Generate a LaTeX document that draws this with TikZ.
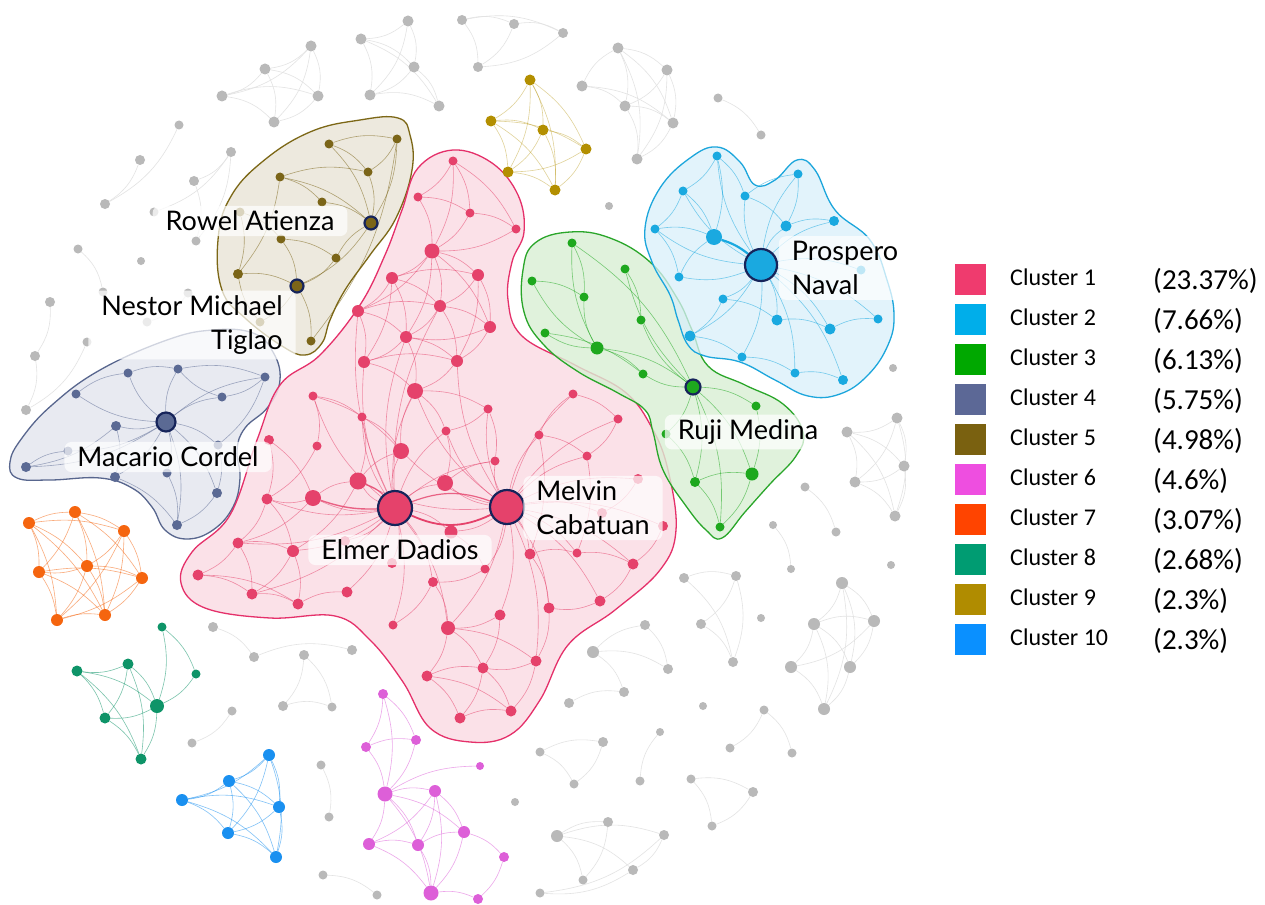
\documentclass[tikz,border=0pt]{standalone}
\usepackage{fontspec}
\setmainfont{Lato}
\newfontfamily\legfont{Carlito}
\pgfdeclarelayer{bgl}\pgfdeclarelayer{hulls}\pgfdeclarelayer{edges}\pgfdeclarelayer{labels}
\pgfsetlayers{bgl,hulls,edges,main,labels}
\definecolor{navy}{HTML}{16245A}
\definecolor{n1}{HTML}{E5426B}\definecolor{h1}{HTML}{FBDCE4}\definecolor{b1}{HTML}{E5306A}
\definecolor{n2}{HTML}{1AA9E0}\definecolor{h2}{HTML}{D9EFFA}\definecolor{b2}{HTML}{1CA6DC}
\definecolor{n3}{HTML}{1EA81E}\definecolor{h3}{HTML}{D9EFD4}\definecolor{b3}{HTML}{2AA62A}
\definecolor{n4}{HTML}{5B6A94}\definecolor{h4}{HTML}{E4E7EF}\definecolor{b4}{HTML}{58668E}
\definecolor{n5}{HTML}{7B6518}\definecolor{h5}{HTML}{EAE6D9}\definecolor{b5}{HTML}{7C6716}
\definecolor{n6}{HTML}{DD5FD8}\definecolor{n7}{HTML}{F5650F}\definecolor{n8}{HTML}{0E9468}
\definecolor{n9}{HTML}{B38F00}\definecolor{n10}{HTML}{1A90F0}\definecolor{ng}{HTML}{B9B9B9}
\definecolor{l1}{HTML}{EF3B6E}\definecolor{l2}{HTML}{00AEEA}\definecolor{l3}{HTML}{00A800}
\definecolor{l4}{HTML}{5C6896}\definecolor{l5}{HTML}{7A6110}\definecolor{l6}{HTML}{EE4EE0}
\definecolor{l7}{HTML}{FF4400}\definecolor{l8}{HTML}{009C72}\definecolor{l9}{HTML}{B08C00}
\definecolor{l10}{HTML}{0A90FF}
\tikzset{
  nd/.style={circle,inner sep=0pt,minimum size=#1},
  hubnode/.style={circle,inner sep=0pt,draw=navy,line width=2.2pt,minimum size=#1},
  lbl/.style={fill=white,fill opacity=0.72,text opacity=1,rounded corners=7pt,inner xsep=13pt,inner ysep=5pt,font=\fontsize{27}{34}\selectfont},
  hullshape/.style={line width=1.3pt,fill opacity=0.85},
  edg/.style={line width=0.6pt,draw opacity=0.55},
  gedg/.style={line width=0.6pt,draw=black!11},
  legbox/.style={minimum size=31pt,inner sep=0pt},
  legtxt/.style={anchor=west,inner sep=0pt,font=\legfont\fontsize{24}{26}\selectfont},
  legpct/.style={anchor=west,inner sep=0pt,font=\legfont\fontsize{29}{30}\selectfont}
}
\begin{document}
\begin{tikzpicture}[x=1pt,y=-1pt]
\begin{pgfonlayer}{bgl}
\fill[white] (0,0) rectangle (1265,904);
\end{pgfonlayer}
\useasboundingbox (0,0) rectangle (1265,904);
% ---------------- hulls
\begin{pgfonlayer}{hulls}
\draw[hullshape,draw=b5,fill=h5] plot[smooth cycle,tension=0.7] coordinates {(398,118) (410,135) (412,170) (396,218) (370,255) (345,290) (330,320) (322,343) (305,355) (282,346) (245,318) (222,290) (218,240) (230,198) (262,162) (310,132) (360,120)};
\draw[hullshape,draw=b4,fill=h4] plot[smooth cycle,tension=0.7] coordinates {(10,462) (22,438) (52,405) (100,370) (167,340) (213,330) (253,333) (273,352) (280,380) (268,407) (245,428) (237,450) (240,478) (233,507) (213,530) (187,539) (165,530) (152,507) (132,488) (100,478) (50,480) (17,478)};
\draw[hullshape,draw=b1,fill=h1] plot[smooth cycle,tension=0.65] coordinates {(453,150) (492,163) (518,195) (524,232) (512,262) (508,300) (522,336) (575,365) (625,392) (652,428) (668,470) (676,530) (660,570) (615,610) (568,645) (540,700) (510,735) (470,742) (430,728) (403,682) (370,640) (335,616) (270,618) (205,608) (181,583) (192,552) (230,515) (257,440) (280,385) (320,355) (360,305) (385,255) (402,210) (418,168)};
\draw[hullshape,draw=b3,fill=h3,fill opacity=0.8] plot[smooth cycle,tension=0.7] coordinates {(523,270) (535,243) (570,232) (610,238) (650,262) (677,298) (692,330) (708,366) (745,385) (783,404) (803,432) (796,456) (770,484) (745,512) (722,538) (706,530) (686,506) (663,470) (653,432) (645,410) (618,393) (577,371) (543,344) (524,312)};
\draw[hullshape,draw=b2,fill=h2,fill opacity=0.75] plot[smooth cycle,tension=0.7] coordinates {(645,228) (660,188) (690,158) (717,147) (740,162) (755,185) (775,180) (797,160) (815,170) (835,210) (870,240) (887,280) (894,315) (888,345) (868,375) (840,394) (808,396) (775,380) (740,362) (705,356) (688,345) (678,320) (670,295) (652,262)};
\end{pgfonlayer}
% ---------------- gray nodes
\foreach \i/\x/\y/\s in {1/311/46/11, 2/265/69/11, 3/222/96/11, 4/318/96/11, 5/274/122/11,
 6/408/21/11, 7/361/39/11, 8/414/67/11, 9/370/95/11, 10/439/106/11,
 11/462/20/10, 12/514/24/10, 13/563/33/10, 14/478/67/10,
 15/618/48/11, 16/667/70/11, 17/625/106/11, 18/673/123/11, 19/637/159/11, 20/582/86/11,
 21/718/98/9, 22/761/135/9, 23/179/125/9, 24/140/160/10, 90/105/204/10,
 25/231/152/10, 26/194/181/10, 91/154/212/9, 27/196/241/9,
 92/78/249/9, 93/103/292/9, 94/141/261/8, 28/188/293/9, 95/147/322/9,
 32/50/302/10, 30/35/356/10, 31/26/410/10, 29/87/342/9,
 33/609/206/8, 35/893/368/8,
 36/897/418/11, 37/847/432/11, 38/904/466/11, 39/855/482/11, 40/895/516/11,
 41/805/487/9, 42/836/532/9, 43/773/525/8, 44/791/569/8, 45/891/565/8,
 46/842/583/12, 47/814/624/12, 48/874/621/12, 49/791/667/12, 50/850/667/12, 51/824/709/12,
 52/792/753/9, 53/764/710/9, 54/730/748/9,
 55/733/662/10, 96/736/576/10, 97/701/624/10, 62/684/578/10, 98/761/618/8, 56/703/706/8,
 57/593/652/12, 58/668/669/10, 59/624/692/10, 60/569/703/10, 61/645/625/10,
 63/540/752/9, 64/603/742/10, 65/574/784/9, 66/640/781/9, 67/660/732/8,
 68/691/779/9, 69/753/792/10, 70/712/826/9, 71/515/802/8,
 72/557/836/12, 73/608/822/10, 74/664/835/10, 75/633/870/10, 76/583/880/9, 77/540/893/9,
 78/213/627/10, 79/254/657/10, 80/304/655/10, 81/352/650/10, 82/283/706/10, 83/332/707/9, 84/232/711/9, 85/192/743/9,
 86/321/765/9, 87/329/817/9, 88/323/875/9, 89/377/895/9}
  \node[nd=\s pt,fill=ng] (g\i) at (\x,\y) {};
\begin{pgfonlayer}{edges}
\foreach \a/\b in {1/2,1/3,1/4,1/5,2/3,2/4,3/4,3/5,4/5,2/5, 6/7,6/8,6/9,7/8,7/10,8/9,8/10,9/10,7/9,
 11/12,11/13,12/13,12/14,13/14,11/14, 15/16,15/17,15/18,15/19,16/17,16/18,16/19,17/18,17/19,18/19,20/17,20/15,20/18,
 21/22, 23/90,24/90,25/26,25/91,26/27,25/27,92/93,28/95, 32/30,30/31,29/31,
 36/37,36/38,36/39,36/40,37/38,37/39,37/40,38/39,38/40,39/40, 41/42,43/44,
 46/47,46/48,46/50,46/51,47/48,47/49,47/50,48/49,48/50,49/51,50/51,47/51,
 53/52,53/54, 62/96,62/55,96/97,96/55,97/55, 57/61,57/58,61/58,60/59,57/59,
 63/64,63/65,64/65,66/67, 68/69,68/70,69/70,
 72/73,72/74,72/75,72/76,73/76,74/75,75/77,74/77,
 78/79,79/81,80/82,80/83,82/83,84/85,86/87,88/89}
  \draw[gedg] (g\a) to[bend left=18] (g\b);
\end{pgfonlayer}
% ---------------- cluster 1 (pink)
\foreach \i/\x/\y/\s in {1/453/161/9, 2/418/197/9, 3/470/213/9, 4/516/229/9, 5/432/251/15, 6/392/278/12, 7/478/275/12, 8/440/306/12, 9/490/327/12, 10/358/311/12, 11/406/337/12, 12/364/362/12, 13/457/361/12, 14/415/391/16, 15/313/396/9, 16/362/417/9, 17/488/409/9, 18/446/431/9, 19/539/435/9, 20/573/394/9, 21/618/419/9, 22/587/456/9, 23/495/461/9, 24/401/451/16, 25/317/446/9, 26/358/481/17, 27/445/483/16, 28/313/498/16, 29/267/499/11, 32/451/532/13, 33/238/543/11, 34/293/551/12, 35/530/554/11, 36/577/553/9, 37/633/564/11, 38/485/569/9, 39/433/582/10, 40/198/575/11, 41/252/594/11, 42/298/604/11, 43/347/592/11, 44/600/601/11, 45/549/608/11, 46/500/615/11, 47/393/625/9, 48/448/628/14, 49/427/676/11, 50/483/668/11, 51/536/661/11, 52/460/718/11, 53/511/711/11, 54/269/440/10, 55/638/479/10, 56/663/526/10, 57/602/513/10, 58/345/541/10, 59/392/563/10}
  \node[nd=\s pt,fill=n1] (p\i) at (\x,\y) {};
\node[hubnode=34pt,fill=n1] (p30) at (395,508) {};
\node[hubnode=34pt,fill=n1] (p31) at (507,507) {};
\begin{pgfonlayer}{edges}
\foreach \a/\b in {30/26,30/28,30/24,30/27,30/14,30/16,30/18,30/11,30/12,30/33,30/34,30/29,30/43,30/39,30/47,30/59,30/58,30/10,30/8,30/23,30/32,30/48,30/15,30/41,
 31/27,31/23,31/17,31/19,31/22,31/35,31/36,31/37,31/45,31/44,31/46,31/38,31/32,31/18,31/21,31/20,31/55,31/56,31/57,31/24,31/26,31/14,31/48,31/51,31/13,
 1/2,1/3,1/4,2/3,3/4,2/5,1/5,4/5,3/5,5/6,5/7,5/8,5/9,5/10,5/11,6/7,6/8,6/10,6/11,6/12,7/8,7/9,7/13,8/9,8/11,8/13,9/13,10/11,10/12,11/12,11/13,12/13,9/11,10/8,12/14,13/14,11/14,
 15/16,15/25,15/24,25/29,29/33,33/40,40/41,41/42,33/34,34/42,28/29,28/26,26/24,24/14,16/24,40/42,33/41,34/41,28/33,26/34,42/43,29/34,54/29,54/28,
 14/18,18/27,27/23,17/23,17/18,16/26,14/17,32/38,38/39,39/47,39/48,
 20/21,19/20,19/22,21/22,22/36,36/37,37/44,35/45,44/45,35/36,19/35,55/57,56/37,
 48/49,48/50,48/51,49/50,49/52,50/53,51/53,52/53,50/52,49/53,51/50,46/48,45/51,46/50}
  \draw[edg,draw=n1] (p\a) to[bend left=15] (p\b);
\draw[n1,line width=1.8pt] (p30) to[bend right=25] (p31);
\draw[n1,line width=1.2pt,draw opacity=0.8] (p30) to[bend left=20] (p31);
\draw[n1,line width=1.4pt,draw opacity=0.8] (p28) to[bend right=10] (p30);
\draw[n1,line width=1.2pt,draw opacity=0.8] (p26) to[bend left=12] (p30);
\end{pgfonlayer}
% ---------------- cluster 2 (cyan)
\foreach \i/\x/\y/\s in {1/717/156/9, 2/683/191/9, 3/745/196/9, 4/798/174/9, 5/655/229/9, 6/714/237/16, 7/786/226/11, 8/834/221/10, 10/861/270/9, 11/679/277/9, 12/723/299/9, 13/777/320/11, 14/830/329/11, 15/878/319/9, 16/690/336/11, 17/742/357/9, 18/795/373/9, 19/843/380/10}
  \node[nd=\s pt,fill=n2] (c\i) at (\x,\y) {};
\node[hubnode=32pt,fill=n2] (c9) at (761,265) {};
\begin{pgfonlayer}{edges}
\foreach \a/\b in {9/2,9/3,9/4,9/5,9/7,9/8,9/10,9/11,9/12,9/13,9/14,9/15,9/16,9/17,9/18,9/19,9/1,
 1/2,1/3,1/6,2/6,5/6,3/4,4/7,7/8,11/6,12/13,13/14,14/15,17/18,18/19,16/17,5/11,2/5,3/7,12/16}
  \draw[edg,draw=n2] (c\a) to[bend left=15] (c\b);
\draw[n2,line width=2.2pt] (c6) to[bend left=10] (c9);
\end{pgfonlayer}
% ---------------- cluster 3 (green)
\foreach \i/\x/\y/\s in {1/572/243/9, 2/625/269/9, 3/532/281/9, 4/584/297/9, 5/641/320/9, 6/545/333/9, 7/597/348/13, 8/643/374/9, 10/756/406/9, 11/666/434/9, 12/695/482/10, 13/752/474/13, 14/720/527/9}
  \node[nd=\s pt,fill=n3] (r\i) at (\x,\y) {};
\node[hubnode=15pt,fill=n3] (r9) at (693,387) {};
\begin{pgfonlayer}{edges}
\foreach \a/\b in {7/1,7/3,7/4,7/6,7/8,7/9,1/4,3/4,9/2,9/5,9/8,9/10,9/11,9/12,9/13,9/14,2/5,12/13,13/14,12/14,10/13,11/12,1/9,6/8}
  \draw[edg,draw=n3] (r\a) to[bend left=15] (r\b);
\end{pgfonlayer}
% ---------------- cluster 4 (slate)
\foreach \i/\x/\y/\s in {1/128/373/9, 2/178/369/9, 3/265/377/9, 4/76/394/9, 5/222/397/9, 6/116/426/10, 8/68/451/9, 9/218/445/9, 10/26/467/10, 11/115/477/10, 12/167/473/9, 13/217/493/10, 14/177/525/10}
  \node[nd=\s pt,fill=n4] (s\i) at (\x,\y) {};
\node[hubnode=19pt,fill=n4] (s7) at (166,422) {};
\begin{pgfonlayer}{edges}
\foreach \a/\b in {7/1,7/2,7/3,7/4,7/5,7/6,7/8,7/9,7/10,7/11,7/12,7/13,7/14,4/1,1/2,2/3,3/5,5/2,6/10,10/8,11/14,12/14,13/14,9/13,6/11,3/9}
  \draw[edg,draw=n4] (s\a) to[bend left=15] (s\b);
\end{pgfonlayer}
% ---------------- cluster 5 (olive)
\foreach \i/\x/\y/\s in {1/329/144/9, 2/397/139/9, 3/368/172/9, 4/280/177/9, 5/322/202/9, 6/240/212/9, 8/281/239/9, 9/336/258/9, 10/238/274/10, 12/260/322/9, 13/311/341/9}
  \node[nd=\s pt,fill=n5] (o\i) at (\x,\y) {};
\node[hubnode=13pt,fill=n5] (o7) at (371,223) {};
\node[hubnode=13pt,fill=n5] (o11) at (297,286) {};
\begin{pgfonlayer}{edges}
\foreach \a/\b in {1/2,1/3,2/3,2/7,3/7,4/3,4/7,4/5,5/7,6/10,4/10,7/11,9/7,8/11,10/11,11/13,11/12,9/11,1/7,12/10,2/13,6/8,8/9}
  \draw[edg,draw=n5] (o\a) to[bend left=15] (o\b);
\end{pgfonlayer}
% ---------------- cluster 6 (magenta)
\foreach \i/\x/\y/\s in {1/383/694/10, 2/366/747/10, 3/416/740/10, 4/480/766/8, 5/385/794/15, 6/435/791/12, 7/464/832/12, 8/369/844/12, 9/418/845/12, 10/504/857/10, 11/431/893/15, 12/478/899/10}
  \node[nd=\s pt,fill=n6] (m\i) at (\x,\y) {};
\begin{pgfonlayer}{edges}
\foreach \a/\b in {1/2,1/3,1/5,2/3,2/5,3/5,5/4,5/6,5/7,5/8,5/9,5/11,6/7,6/9,6/11,7/10,7/11,8/9,8/11,9/11,9/7,10/12,11/12,6/8}
  \draw[edg,draw=n6] (m\a) to[bend left=15] (m\b);
\end{pgfonlayer}
% ---------------- cluster 7 (orange)
\foreach \i/\x/\y in {1/29/523, 2/75/512, 3/124/531, 4/87/566, 5/39/572, 6/142/578, 7/57/620, 8/105/615}
  \node[nd=12pt,fill=n7] (q\i) at (\x,\y) {};
\begin{pgfonlayer}{edges}
\foreach \a/\b in {1/2,1/3,1/4,1/5,1/7,1/8,2/3,2/4,2/5,2/6,2/8,3/4,3/6,3/7,3/8,4/5,4/6,4/7,4/8,5/7,5/8,6/7,6/8,7/8,5/6}
  \draw[edg,draw=n7] (q\a) to[bend left=12] (q\b);
\end{pgfonlayer}
% ---------------- cluster 8 (teal)
\foreach \i/\x/\y/\s in {1/162/627/9, 2/128/664/11, 3/77/671/11, 4/196/674/9, 5/157/706/14, 6/105/718/11, 7/141/759/11}
  \node[nd=\s pt,fill=n8] (t\i) at (\x,\y) {};
\begin{pgfonlayer}{edges}
\foreach \a/\b in {1/5,1/4,4/5,2/3,3/5,2/5,2/6,3/6,5/6,2/7,6/7,5/7,3/7}
  \draw[edg,draw=n8] (t\a) to[bend left=15] (t\b);
\end{pgfonlayer}
% ---------------- cluster 9 (gold)
\foreach \i/\x/\y in {1/530/80, 2/491/121, 3/543/130, 4/586/149, 5/508/172, 6/555/190}
  \node[nd=11pt,fill=n9] (u\i) at (\x,\y) {};
\begin{pgfonlayer}{edges}
\foreach \a/\b in {1/2,1/3,1/4,1/5,1/6,2/3,2/4,2/5,3/4,3/5,3/6,4/5,4/6,5/6,2/6}
  \draw[edg,draw=n9,draw opacity=0.4] (u\a) to[bend left=15] (u\b);
\end{pgfonlayer}
% ---------------- cluster 10 (blue)
\foreach \i/\x/\y in {1/269/755, 2/229/781, 3/182/800, 4/279/807, 5/228/833, 6/276/857}
  \node[nd=12pt,fill=n10] (v\i) at (\x,\y) {};
\begin{pgfonlayer}{edges}
\foreach \a/\b in {1/2,1/3,1/4,1/5,1/6,2/3,2/4,2/5,2/6,3/5,3/6,4/5,4/6,5/6,3/4}
  \draw[edg,draw=n10] (v\a) to[bend left=15] (v\b);
\end{pgfonlayer}
% ---------------- labels
\begin{pgfonlayer}{labels}
\node[lbl] (lrowel) at (250,221) {Rowel Atienza};
\node[lbl,align=right] (lnestor) at (192,325) {Nestor Michael\\Tiglao};
\node[lbl] (lmacario) at (168,457) {Macario Cordel};
\node[lbl] (lelmer) at (400,550) {Elmer Dadios};
\node[lbl,align=left] (lmelvin) at (593,508) {Melvin\\Cabatuan};
\node[lbl,align=left] (lprospero) at (845,268) {Prospero\\Naval};
\node[lbl] (lruji) at (748,432) {Ruji Medina};
\end{pgfonlayer}
% ---------------- legend
\foreach \k/\name/\pct in {1/Cluster 1/(23.37\%),2/Cluster 2/(7.66\%),3/Cluster 3/(6.13\%),4/Cluster 4/(5.75\%),5/Cluster 5/(4.98\%),6/Cluster 6/(4.6\%),7/Cluster 7/(3.07\%),8/Cluster 8/(2.68\%),9/Cluster 9/(2.3\%),10/Cluster 10/(2.3\%)}{
  \node[legbox,fill=l\k] (key\k) at (970,{279+40*(\k-1)}) {};
  \node[legtxt] (name\k) at (1010,{277+40*(\k-1)}) {\name};
  \node[legpct] (pct\k) at (1153,{281+40*(\k-1)}) {\pct};
}
\end{tikzpicture}
\end{document}
